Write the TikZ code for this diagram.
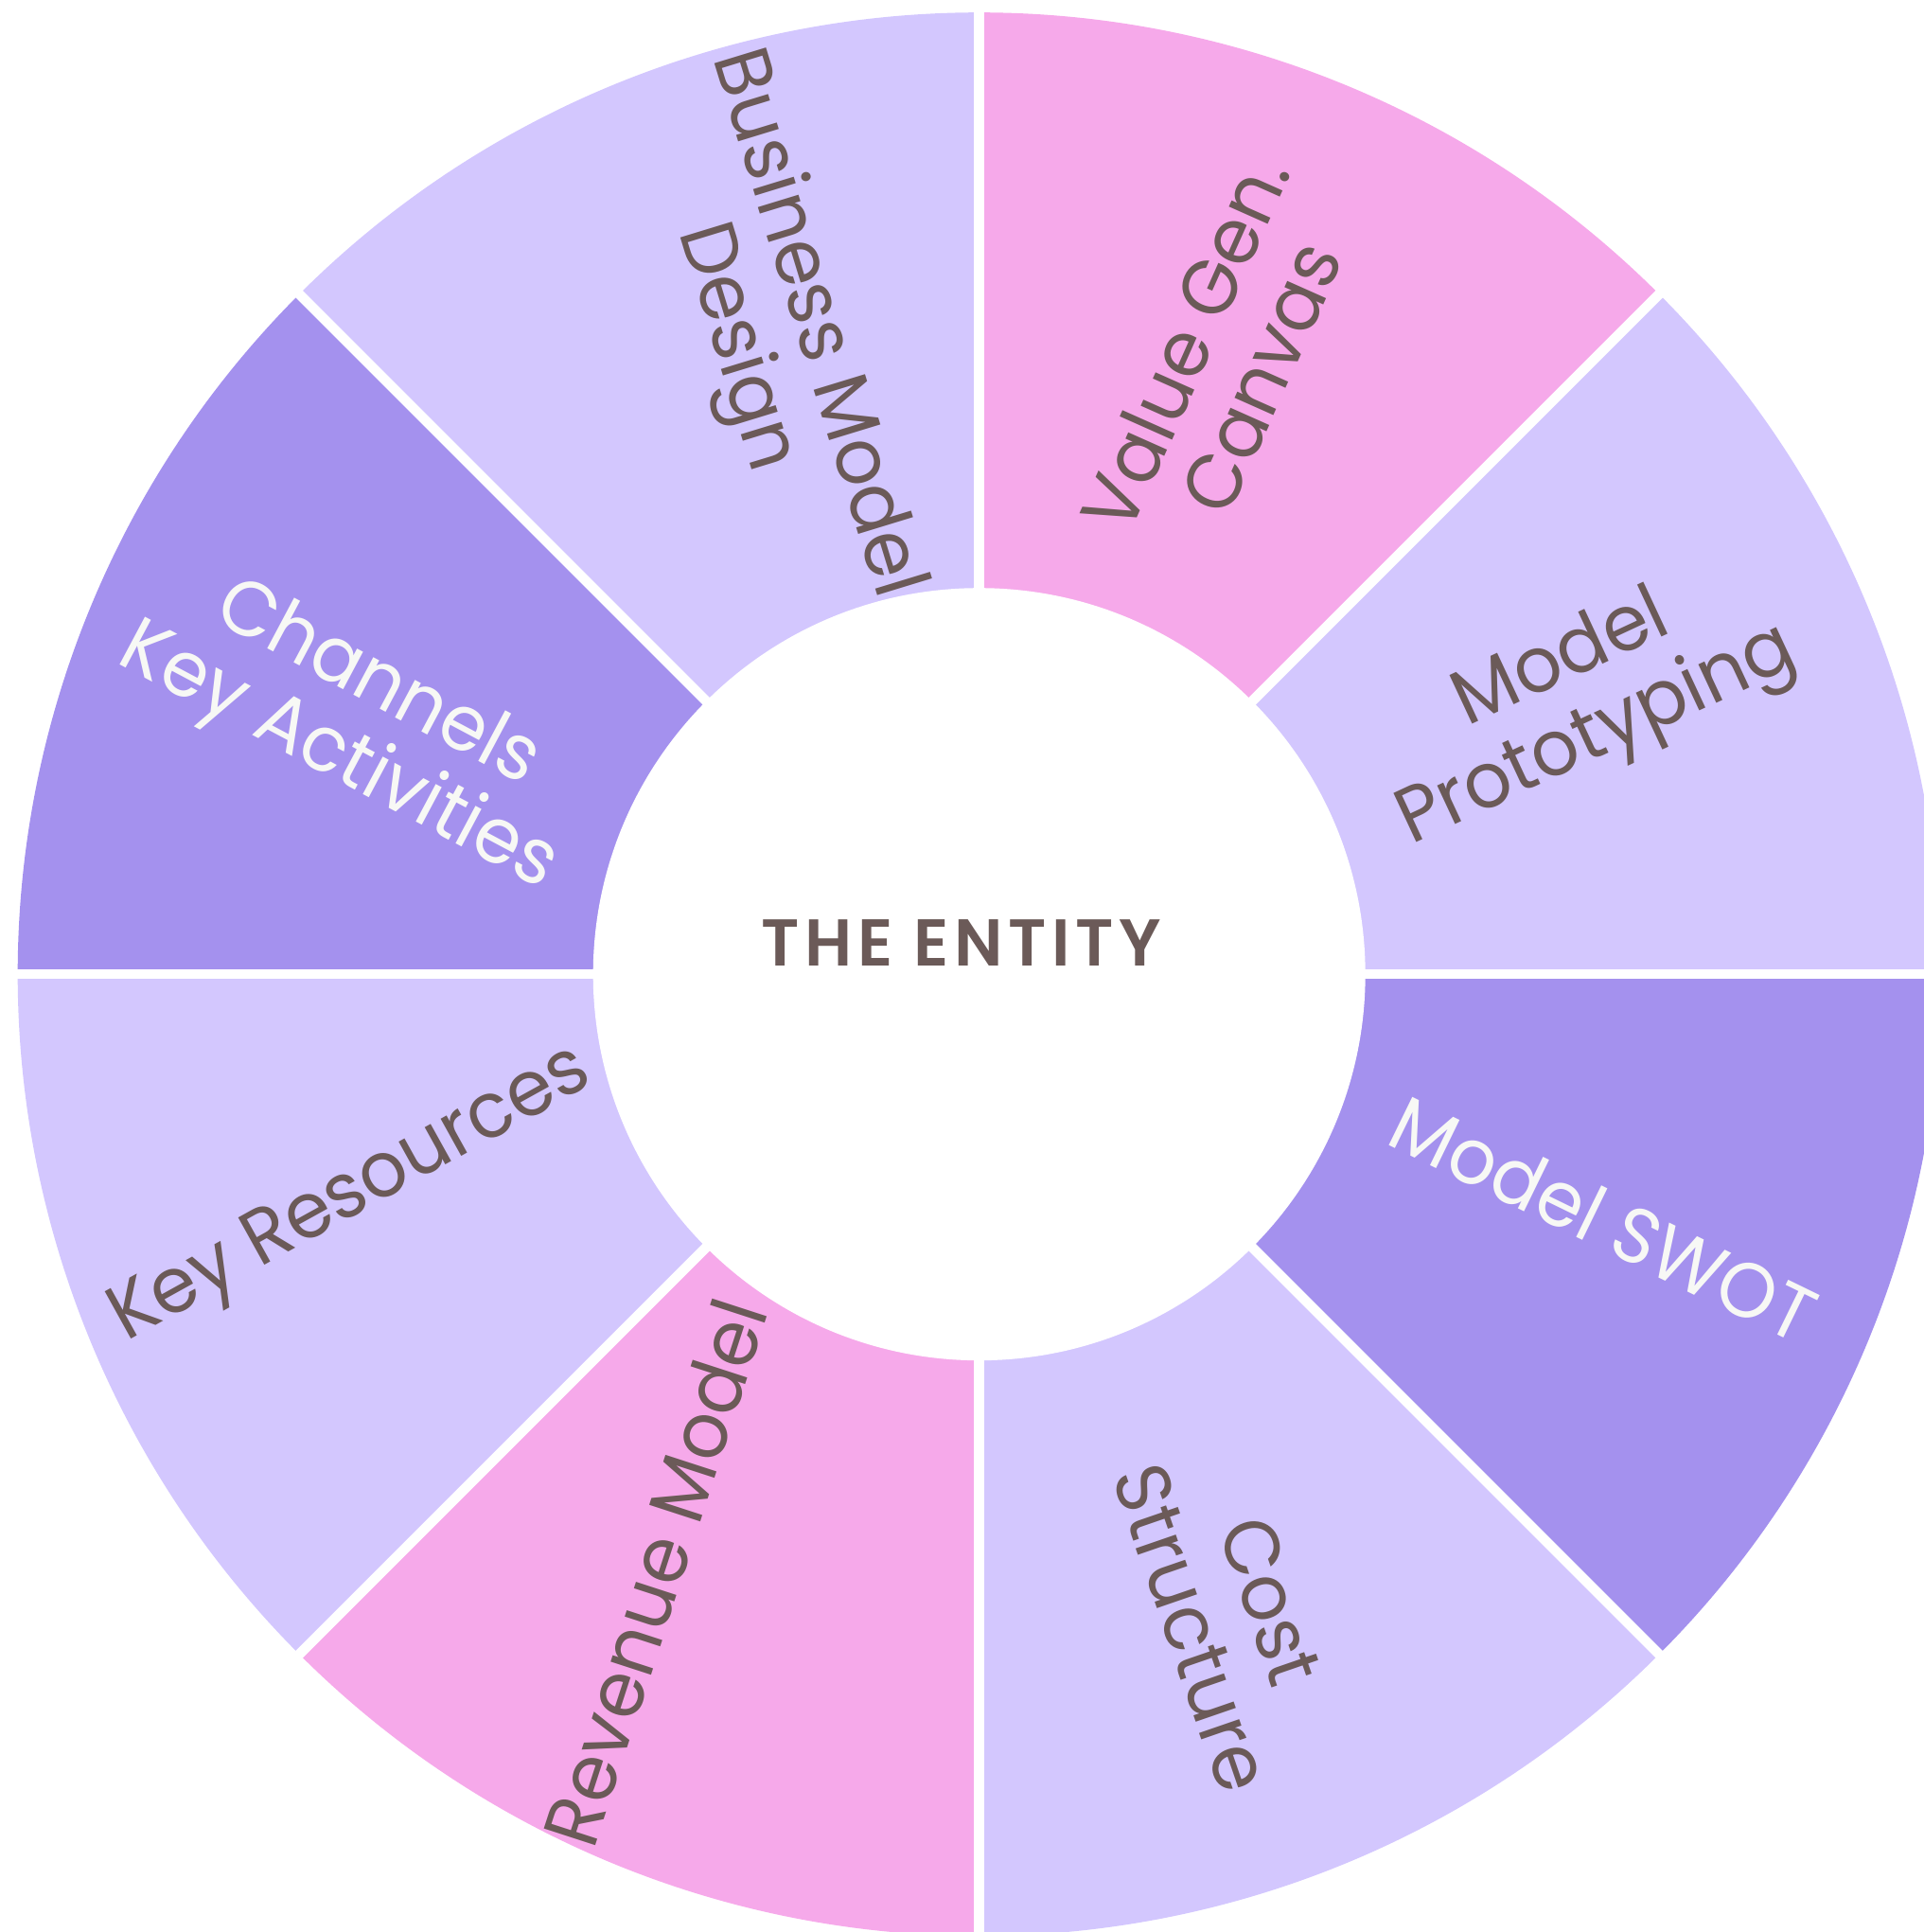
\documentclass[tikz,border=0pt]{standalone}
\usepackage{fontspec}
\setmainfont{Poppins}[FakeStretch=0.96]
\newfontfamily\entityfont{Poppins SemiBold}[LetterSpace=8]
\definecolor{seclav}{HTML}{D3C7FE}
\definecolor{secpink}{HTML}{F6A9EA}
\definecolor{secpurple}{HTML}{A491EE}
\definecolor{inkbrown}{HTML}{6B5A58}
\definecolor{inkwhite}{HTML}{F7F8F5}
\tikzset{
  lbl/.style={text=inkbrown, align=center, inner sep=0pt,
    font=\fontsize{23.3}{25}\selectfont},
  lblw/.style={lbl, text=inkwhite},
  gap/.style={draw=white, line width=1.05mm}
}
\begin{document}
\begin{tikzpicture}
  \useasboundingbox (-10.347,-10.118) rectangle (9.983,10.292);
  % ring sectors
  \fill[seclav] (0,0) -- (0:10.16) arc[start angle=0, end angle=45, radius=10.16] -- cycle;
  \fill[secpink] (0,0) -- (45:10.16) arc[start angle=45, end angle=90, radius=10.16] -- cycle;
  \fill[seclav] (0,0) -- (90:10.16) arc[start angle=90, end angle=135, radius=10.16] -- cycle;
  \fill[secpurple] (0,0) -- (135:10.16) arc[start angle=135, end angle=180, radius=10.16] -- cycle;
  \fill[seclav] (0,0) -- (180:10.16) arc[start angle=180, end angle=225, radius=10.16] -- cycle;
  \fill[secpink] (0,0) -- (225:10.16) arc[start angle=225, end angle=270, radius=10.16] -- cycle;
  \fill[seclav] (0,0) -- (270:10.16) arc[start angle=270, end angle=315, radius=10.16] -- cycle;
  \fill[secpurple] (0,0) -- (315:10.16) arc[start angle=315, end angle=360, radius=10.16] -- cycle;
  \begin{scope}[gap]
    \draw (0,0) -- (0:10.5);
    \draw (0,0) -- (45:10.5);
    \draw (0,0) -- (90:10.5);
    \draw (0,0) -- (135:10.5);
    \draw (0,0) -- (180:10.5);
    \draw (0,0) -- (225:10.5);
    \draw (0,0) -- (270:10.5);
    \draw (0,0) -- (315:10.5);
  \end{scope}
  \fill[white] (0,0) circle (4.08);
  % labels
  \node[lbl, rotate=25] (proto) at (24.5:6.98) {Model\\Prototyping};
  \node[lbl, rotate=66] (canvas) at (68.4:6.98) {Value Gen.\\Canvas};
  \node[lbl, rotate=-73] (design) at (107.8:7.08) {Business Model\\Design};
  \node[lblw, rotate=-28] (channels) at (158:7.09) {Channels\\Key Activities};
  \node[lbl, rotate=29] (resources) at (199.6:7.03) {Key Resources};
  \node[lbl, rotate=72] (revenue) at (-118.5:7.19) {Revenue Model};
  \node[lbl, rotate=-71] (cost) at (-68.5:7.27) {Cost\\Structure};
  \node[lblw, rotate=-26] (swot) at (-21.4:7.09) {Model SWOT};
  \node[text=inkbrown, inner sep=0pt,
    font=\entityfont\fontsize{19.9}{22}\selectfont]
    (entity) at (-0.187,0.336) {THE ENTITY};
\end{tikzpicture}
\end{document}
